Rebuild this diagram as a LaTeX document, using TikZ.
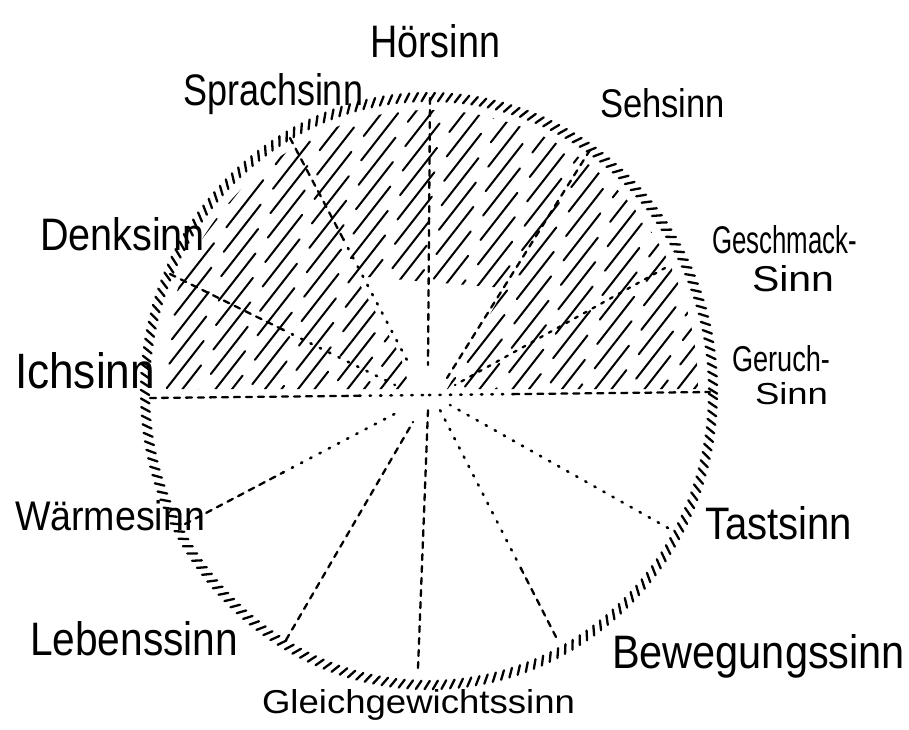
\documentclass[tikz,border=0pt]{standalone}
\usepackage{fontspec}
\setmainfont{Liberation Sans}
\usetikzlibrary{decorations.markings,calc}
\newcommand{\lab}[3]{\resizebox{#1pt}{#2pt}{#3}}
\begin{document}
\begin{tikzpicture}[x=1pt,y=-1pt,
  ink/.style={line width=2.3pt, line cap=round, black},
  dashR/.style={ink, dash pattern=on 6pt off 6pt},
  dotR/.style={ink, line width=2.6pt, dash pattern=on 1.4pt off 9pt},
  hatchline/.style={line width=2pt, line cap=round, black},
  rimstroke/.style={line width=2.3pt, line cap=round, black},
  lbl/.style={anchor=base west, inner sep=0pt, outer sep=0pt, text=black}]
\useasboundingbox (0,0) rectangle (909,729);
\fill[white] (0,0) rectangle (909,729);

% centre and rim
\coordinate (C) at (429,391);
\path[decorate, decoration={markings,
  mark=between positions 0 and 1 step 8.5pt with {\draw[rimstroke] (-2.6pt,-4.2pt) -- (2.6pt,4.2pt);}}]
  (C) ellipse [x radius=284pt, y radius=294pt];

% hatching of the upper half
\begin{scope}
  \clip (160,389) arc[start angle=180, end angle=0, x radius=269pt, y radius=279pt]
        -- (447,389) -- (505,288) -- (355,276) -- (400,355) -- (410,389) -- cycle;
  \foreach \i in {0,...,49} {
    \pgfmathsetmacro\xo{-90+16.5*\i}
    \pgfmathsetmacro\ph{mod(\i*31,80)}
    \draw[hatchline, dash pattern=on 60pt off 20pt, dash phase=\ph pt]
      (\xo,400) -- ({\xo+250},80);
  }
\end{scope}

% radial lines
\coordinate (oHor) at (430,98);    \coordinate (iHor) at (428,365);
\coordinate (oSpr) at (290,138);   \coordinate (iSpr) at (408,362);
\coordinate (oDen) at (170,274);   \coordinate (iDen) at (395,385);
\coordinate (oSeh) at (590,150);   \coordinate (iSeh) at (447,378);
\coordinate (oGes) at (665,268);   \coordinate (iGes) at (455,385);
\coordinate (oIch) at (150,398);   \coordinate (iIch) at (429,395);
\coordinate (oGer) at (710,392);
\coordinate (oWar) at (185,524);   \coordinate (iWar) at (402,410);
\coordinate (oLeb) at (286,640);   \coordinate (iLeb) at (413,422);
\coordinate (oGle) at (418,668);   \coordinate (iGle) at (428,410);
\coordinate (oBew) at (556,637);   \coordinate (iBew) at (440,410);
\coordinate (oTas) at (668,528);   \coordinate (iTas) at (450,405);

\draw[dashR] (oHor) -- (iHor);
\draw[dashR] (oSpr) -- ($(oSpr)!0.45!(iSpr)$) coordinate (mSpr);
\draw[dotR] (mSpr) -- (iSpr);
\draw[dashR] (oDen) -- ($(oDen)!0.5!(iDen)$) coordinate (mDen);
\draw[dotR] (mDen) -- (iDen);
\draw[dashR] (oSeh) -- (iSeh);
\draw[dashR, dash pattern=on 3pt off 7pt] (oGes) -- (iGes);
\draw[dashR] (oIch) -- ($(oIch)!0.75!(iIch)$) coordinate (mIch);
\draw[dotR] (mIch) -- (iIch);
\draw[dotR] (iIch) -- ($(iIch)!0.3!(oGer)$) coordinate (mGer);
\draw[dashR] (mGer) -- (oGer);
\draw[dashR] (oWar) -- ($(oWar)!0.45!(iWar)$) coordinate (mWar);
\draw[dotR] (mWar) -- (iWar);
\draw[dashR] (oLeb) -- (iLeb);
\draw[dashR] (oGle) -- (iGle);
\draw[dashR] (oBew) -- ($(oBew)!0.3!(iBew)$) coordinate (mBew);
\draw[dotR] (mBew) -- (iBew);
\draw[dotR] (oTas) -- (iTas);

% labels
\node[lbl] (hor) at (370,57)  {\lab{130}{33}{Hörsinn}};
\node[lbl] (spr) at (183,105) {\lab{180}{32}{Sprachsinn}};
\node[lbl] (seh) at (600,117) {\lab{125}{29}{Sehsinn}};
\node[lbl] (den) at (40,250)  {\lab{165}{33}{Denksinn}};
\node[lbl] (ges) at (712,253) {\lab{145}{28}{Geschmack-}};
\node[lbl] (ges2) at (752,291) {\lab{82}{26}{Sinn}};
\node[lbl] (ich) at (15,388)  {\lab{140}{36}{Ichsinn}};
\node[lbl] (ger) at (732,371) {\lab{98}{26}{Geruch-}};
\node[lbl] (ger2) at (755,404) {\lab{73}{22}{Sinn}};
\node[lbl] (war) at (15,530)  {\lab{190}{30}{Wärmesinn}};
\node[lbl] (tas) at (705,539) {\lab{147}{33}{Tastsinn}};
\node[lbl] (leb) at (30,655)  {\lab{208}{34}{Lebenssinn}};
\node[lbl] (bew) at (612,668) {\lab{293}{34}{Bewegungssinn}};
\node[lbl] (gle) at (262,713) {\lab{313}{24}{Gleichgewichtssinn}};
\end{tikzpicture}
\end{document}
